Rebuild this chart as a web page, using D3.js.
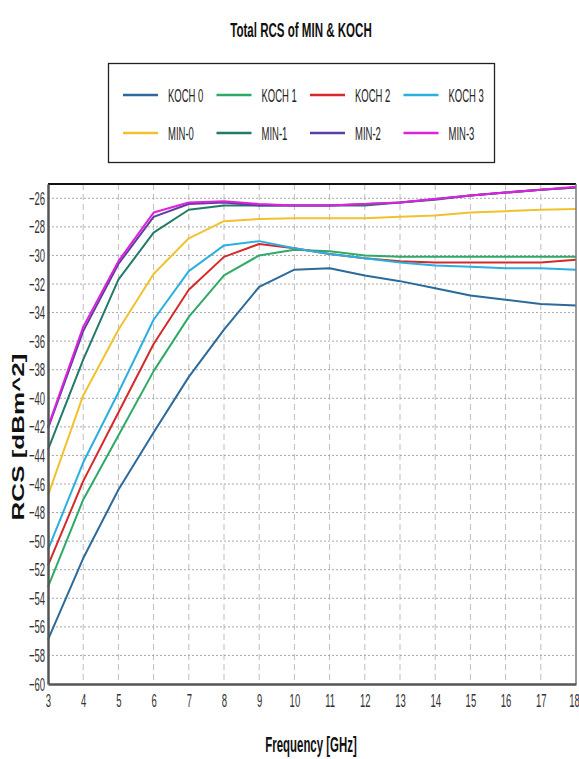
<!DOCTYPE html>
<html>
<head>
<meta charset="utf-8">
<script src="https://cdn.jsdelivr.net/npm/d3@7"></script>
<style>
  html, body { margin: 0; padding: 0; background: #fff; }
  svg { display: block; }
  text { font-family: "Liberation Sans", Arial, sans-serif; }
</style>
</head>
<body>
<svg id="chart" width="579" height="759"></svg>
<script>
// Frequency sweep (GHz) and total RCS (dBm^2) for each antenna variant
const freqs = [3, 4, 5, 6, 7, 8, 9, 10, 11, 12, 13, 14, 15, 16, 17, 18];
const koch0 = [-56.9, -51.2, -46.4, -42.4, -38.5, -35.2, -32.2, -31.0, -30.9, -31.4, -31.8, -32.3, -32.8, -33.1, -33.4, -33.5];
const koch1 = [-53.2, -47.1, -42.6, -38.1, -34.3, -31.4, -30.0, -29.6, -29.7, -30.0, -30.1, -30.1, -30.1, -30.1, -30.1, -30.1];
const koch2 = [-51.7, -45.8, -41.0, -36.2, -32.4, -30.1, -29.2, -29.5, -29.9, -30.2, -30.4, -30.5, -30.5, -30.5, -30.5, -30.3];
const koch3 = [-50.6, -44.5, -39.6, -34.5, -31.1, -29.3, -29.0, -29.5, -29.9, -30.2, -30.5, -30.7, -30.8, -30.9, -30.9, -31.0];
const min0  = [-46.8, -39.8, -35.2, -31.3, -28.8, -27.6, -27.45, -27.4, -27.4, -27.4, -27.3, -27.2, -27.0, -26.9, -26.8, -26.75];
const min1  = [-43.6, -37.3, -31.7, -28.4, -26.8, -26.5, -26.5, -26.5, -26.5, -26.5, -26.3, -26.1, -25.8, -25.6, -25.4, -25.25];
const min2  = [-42.1, -35.3, -30.6, -27.3, -26.4, -26.3, -26.5, -26.5, -26.5, -26.4, -26.3, -26.05, -25.8, -25.6, -25.4, -25.25];
const min3  = [-42.0, -35.0, -30.4, -27.0, -26.3, -26.2, -26.4, -26.5, -26.5, -26.4, -26.3, -26.05, -25.8, -25.6, -25.4, -25.2];

const seriesNames = ["KOCH 0", "KOCH 1", "KOCH 2", "KOCH 3", "MIN-0", "MIN-1", "MIN-2", "MIN-3"];
const seriesValues = [koch0, koch1, koch2, koch3, min0, min1, min2, min3];
const seriesColors = ["#2b6a9a", "#2eaa66", "#d42a2a", "#2ab0e0", "#f2c12e", "#237a68", "#5b3e9e", "#dd22dd"];

const xTicks = d3.range(3, 19);
const yTicks = d3.range(-60, -25, 2);

const svg = d3.select("#chart");
const margin = { left: 48, right: 3, top: 184, bottom: 75 };
const W = 579, H = 759;
const plotW = W - margin.left - margin.right;
const plotH = H - margin.top - margin.bottom;

const x = d3.scaleLinear().domain([3, 18]).range([margin.left, margin.left + plotW]);
const y = d3.scaleLinear().domain([-60, -25]).range([margin.top + plotH, margin.top]);

// Horizontally condensed text helper
const SQ = 0.5;
function narrowText(parent, px, py, str, size, opts = {}) {
  return parent.append("text")
    .attr("transform", `translate(${px},${py}) scale(${opts.sx || SQ},1)`)
    .attr("text-anchor", opts.anchor || "start")
    .attr("font-size", size)
    .attr("font-weight", opts.bold ? "bold" : "normal")
    .attr("fill", opts.fill || "#222")
    .text(str);
}

// Title
narrowText(svg, 301, 37, "Total RCS of MIN & KOCH", 21, { anchor: "middle", bold: true, fill: "#111", sx: 0.55 });

// Legend box with two rows of four entries
const legend = svg.append("g");
legend.append("rect")
  .attr("x", 108.5).attr("y", 63.5).attr("width", 386).attr("height", 99)
  .attr("fill", "#fff").attr("stroke", "#222").attr("stroke-width", 1.3);
seriesNames.forEach((name, i) => {
  const col = i % 4, row = Math.floor(i / 4);
  const lx = 123 + col * 93.5, ly = 95 + row * 38;
  legend.append("line")
    .attr("x1", lx).attr("x2", lx + 35).attr("y1", ly).attr("y2", ly)
    .attr("stroke", seriesColors[i]).attr("stroke-width", 2.5);
  narrowText(legend, lx + 45, ly + 7, name, 19, { fill: "#222" });
});

// Grid
const grid = svg.append("g");
grid.selectAll(".vg").data(xTicks.slice(1, -1)).join("line")
  .attr("x1", d => x(d)).attr("x2", d => x(d))
  .attr("y1", margin.top).attr("y2", margin.top + plotH)
  .attr("stroke", "#bdbdbd").attr("stroke-width", 1).attr("stroke-dasharray", "6,4");
grid.selectAll(".hg").data(yTicks.slice(1)).join("line")
  .attr("x1", margin.left).attr("x2", margin.left + plotW)
  .attr("y1", d => y(d)).attr("y2", d => y(d))
  .attr("stroke", "#a8a8a8").attr("stroke-width", 1).attr("stroke-dasharray", "2,2");

// Series lines
const line = d3.line()
  .x((d, i) => x(freqs[i]))
  .y(d => y(d));
svg.append("g").selectAll("path").data(seriesValues).join("path")
  .attr("d", d => line(d))
  .attr("fill", "none")
  .attr("stroke", (d, i) => seriesColors[i])
  .attr("stroke-width", 2)
  .attr("stroke-linejoin", "round");

// Plot frame: top and right borders
svg.append("line")
  .attr("x1", margin.left).attr("x2", margin.left + plotW)
  .attr("y1", margin.top).attr("y2", margin.top)
  .attr("stroke", "#111").attr("stroke-width", 2);
svg.append("line")
  .attr("x1", margin.left + plotW).attr("x2", margin.left + plotW)
  .attr("y1", margin.top).attr("y2", margin.top + plotH)
  .attr("stroke", "#777").attr("stroke-width", 1.5);

// Axes
const xAxis = svg.append("g")
  .attr("transform", `translate(0,${margin.top + plotH})`)
  .call(d3.axisBottom(x).tickValues(xTicks).tickSize(0).tickPadding(10).tickFormat(d3.format("d")));
const yAxis = svg.append("g")
  .attr("transform", `translate(${margin.left},0)`)
  .call(d3.axisLeft(y).tickValues(yTicks).tickSize(0).tickPadding(3).tickFormat(d3.format("d")));
[xAxis, yAxis].forEach(a => {
  a.select(".domain").attr("stroke", "#555").attr("stroke-width", 2.5);
  a.selectAll("text")
    .attr("font-size", 19)
    .attr("fill", "#333");
});
yAxis.selectAll(".tick text")
  .attr("x", -3 / SQ)
  .attr("transform", `scale(${SQ},1)`);
xAxis.selectAll(".tick text")
  .attr("y", 10)
  .attr("transform", d => d === 18 ? `translate(-2,0) scale(${SQ},1)` : `scale(${SQ},1)`);

// Axis titles
narrowText(svg, 311, 752, "Frequency [GHz]", 22, { anchor: "middle", bold: true, fill: "#111", sx: 0.52 });
svg.append("text")
  .attr("transform", `translate(24,437) scale(0.6,1) rotate(-90)`)
  .attr("text-anchor", "middle")
  .attr("font-size", 26).attr("font-weight", "bold").attr("fill", "#111")
  .text("RCS [dBm^2]");
</script>
</body>
</html>
